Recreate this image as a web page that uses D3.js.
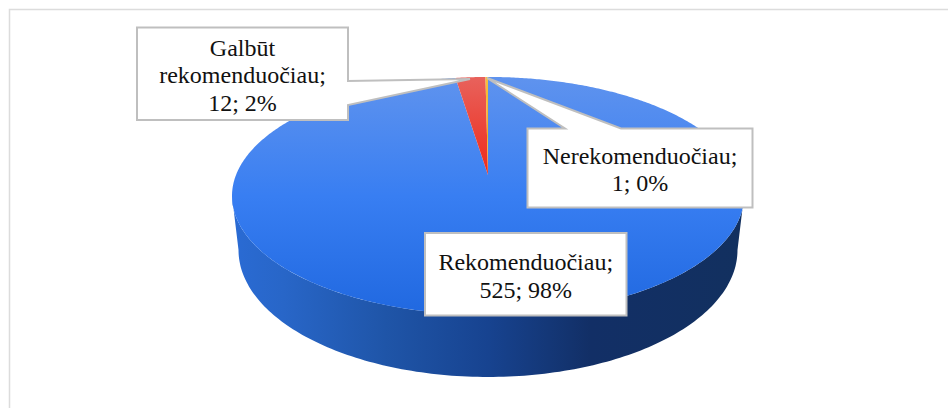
<!DOCTYPE html>
<html><head><meta charset="utf-8">
<script src="https://cdn.jsdelivr.net/npm/d3@7"></script>
<style>html,body{margin:0;padding:0;background:#fff}svg{display:block}</style>
</head><body><svg id="c" width="948" height="408"></svg>
<script>
const categories = ["Rekomenduočiau", "Galbūt rekomenduočiau", "Nerekomenduočiau"];
const values = [525, 12, 1];
const percents = ["98%", "2%", "0%"];
const labelLines = [["Rekomenduočiau;", "525; 98%"], ["Galbūt", "rekomenduočiau;", "12; 2%"], ["Nerekomenduočiau;", "1; 0%"]];

const svg = d3.select("#c");
const cx = 488, k = 0.176;
// perspective projection of the pie disc
const top3d = {A: 252, B: 115.3, y0: 175};
const bot3d = {A: 245.6, B: 123, y0: 227.7};
const proj = (a, P) => {
  const s = Math.sin(a), c = Math.cos(a), w = 1 + k * c;
  return [cx + P.A * s / w, P.y0 - P.B * c / w];
};
const pie = d3.pie().sort(null).value(d => d).startAngle(0).endAngle(2 * Math.PI);
const arcs = pie(values);

const defs = svg.append("defs");
function vgrad(id, stops, y0, y1) {
  const g = defs.append("linearGradient").attr("id", id).attr("gradientUnits", "userSpaceOnUse")
    .attr("x1", 0).attr("x2", 0).attr("y1", y0).attr("y2", y1);
  stops.forEach(s => g.append("stop").attr("offset", s[0]).attr("stop-color", s[1]));
}
vgrad("gBlue", [[0, "#5f93ee"], [0.5, "#387ef2"], [1, "#2068e0"]], 77, 316);
vgrad("gRed", [[0, "#e8625c"], [1, "#ee2a1a"]], 77, 175);
vgrad("gYel", [[0, "#f5c040"], [1, "#f0a810"]], 77, 175);
const sideG = defs.append("linearGradient").attr("id", "gSide").attr("gradientUnits", "userSpaceOnUse")
  .attr("x1", 232).attr("x2", 744).attr("y1", 0).attr("y2", 0);
[[0, "#2a6bd4"], [0.1, "#2866c8"], [0.3, "#1f55a8"], [0.5, "#174390"], [0.7, "#122f66"], [1, "#12305f"]]
  .forEach(s => sideG.append("stop").attr("offset", s[0]).attr("stop-color", s[1]));

// chart frame
svg.append("path").attr("d", "M9.5,408V9.5H948").attr("fill", "none").attr("stroke", "#dcdcdc").attr("stroke-width", 1.5);

// side wall
const a0 = Math.acos(-k), a1 = 2 * Math.PI - a0;
const wallAngles = d3.range(0, 161).map(i => a0 + (a1 - a0) * i / 160);
const line = d3.line();
svg.append("path").attr("fill", "url(#gSide)")
  .attr("d", line(wallAngles.map(a => proj(a, top3d)).concat(wallAngles.slice().reverse().map(a => proj(a, bot3d)))) + "Z");

// top slices
const fills = ["url(#gBlue)", "url(#gRed)", "url(#gYel)"];
function slicePath(d) {
  const n = Math.max(2, Math.ceil((d.endAngle - d.startAngle) / 0.01));
  const pts = d3.range(n + 1).map(i => proj(d.startAngle + (d.endAngle - d.startAngle) * i / n, top3d));
  return line([[cx, top3d.y0]].concat(pts)) + "Z";
}
svg.append("g").selectAll("path").data(arcs).join("path")
  .attr("d", slicePath).attr("fill", (d, i) => fills[i]);

// callouts
const boxes = [
  {x: 425, y: 233, w: 201.5, h: 82.5},
  {x: 137, y: 27.5, w: 211, h: 92.5, tip: [470, 79], base: [81, 105]},
  {x: 527.5, y: 128.5, w: 225, h: 79, tip: [487, 78], base: [565, 621]}
];
const callouts = svg.append("g");
boxes.forEach((b, i) => {
  let d = `M${b.x},${b.y}`;
  if (i === 2) d += `L${b.base[0]},${b.y}L${b.tip[0]},${b.tip[1]}L${b.base[1]},${b.y}`;
  d += `L${b.x + b.w},${b.y}`;
  if (i === 1) d += `L${b.x + b.w},${b.base[0]}L${b.tip[0]},${b.tip[1]}L${b.x + b.w},${b.base[1]}`;
  d += `L${b.x + b.w},${b.y + b.h}L${b.x},${b.y + b.h}Z`;
  callouts.append("path").attr("d", d).attr("fill", "#fff").attr("stroke", "#bfbfbf").attr("stroke-width", 2);
  const lh = 27.5;
  const lines = labelLines[i];
  const midY = b.y + b.h / 2 - (lines.length - 1) * lh / 2 + 9.5;
  lines.forEach((t, j) => callouts.append("text")
    .attr("x", b.x + b.w / 2).attr("y", midY + j * lh).attr("text-anchor", "middle")
    .attr("font-family", "'Liberation Serif','Times New Roman',serif").attr("font-size", 24).attr("fill", "#111").text(t));
});
</script></body></html>
